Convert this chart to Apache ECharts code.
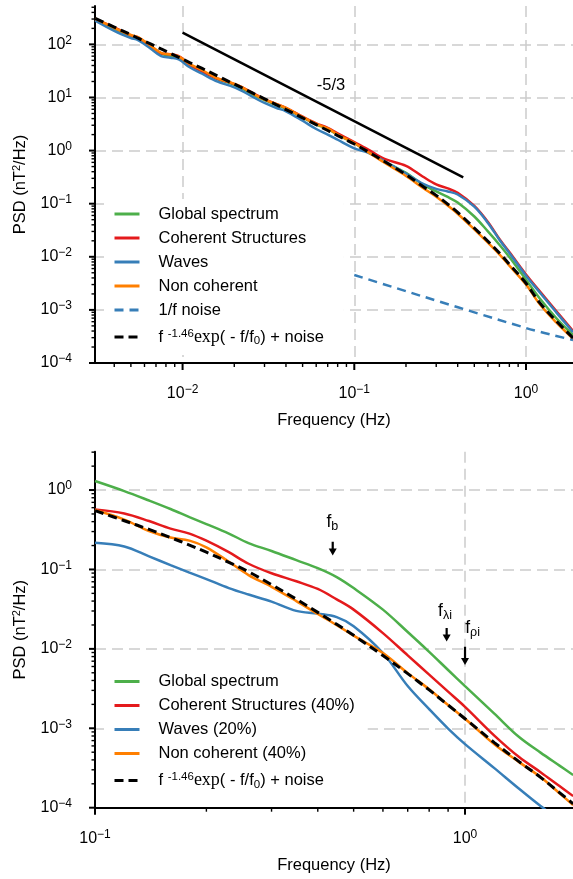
<!DOCTYPE html>
<html><head><meta charset="utf-8">
<script src="https://cdn.jsdelivr.net/npm/echarts@6/dist/echarts.min.js"></script>
<style>html,body{margin:0;padding:0;background:#fff}#c{width:573px;height:879px}</style>
</head><body><div id="c"></div>
<script>
// ================= DATA =================
// Top panel (full range)
const topFreq = [0.0031, 0.004, 0.005, 0.0055, 0.0065, 0.0075, 0.0085, 0.0095, 0.011, 0.013, 0.016, 0.019, 0.022, 0.026, 0.03, 0.035, 0.04, 0.05, 0.06, 0.07, 0.08, 0.1, 0.12, 0.15, 0.2, 0.25, 0.3, 0.35, 0.4, 0.5, 0.6, 0.7, 0.8, 1.0, 1.2, 1.5, 1.88];
const topGlobal = [296, 198, 142, 128, 90, 66, 61, 56, 41, 31.5, 22, 18.5, 15, 11.1, 8.9, 7.3, 6.15, 4.2, 3.1, 2.55, 1.98, 1.38, 0.95, 0.62, 0.38, 0.23, 0.17, 0.134, 0.105, 0.0574, 0.030, 0.0169, 0.0099, 0.0037, 0.00165, 0.0007, 0.000335];
const topCoherent = [300, 210, 148, 136, 93, 68, 65, 60, 41.5, 31, 22.5, 19, 15.9, 11.8, 9.3, 7.6, 6.4, 4.35, 3.25, 2.68, 2.1, 1.44, 1.05, 0.695, 0.515, 0.325, 0.23, 0.194, 0.16, 0.0906, 0.0452, 0.0216, 0.0123, 0.00466, 0.00227, 0.00095, 0.0004];
const topWaves = [280, 180, 132, 120, 84, 60, 56, 52, 37, 28, 19.8, 16.5, 13.5, 10.0, 7.9, 6.4, 5.5, 3.65, 2.55, 2.0, 1.6, 1.1, 0.92, 0.63, 0.37, 0.24, 0.19, 0.17, 0.149, 0.088, 0.0435, 0.021, 0.0118, 0.0044, 0.00215, 0.0009, 0.00038];
const topNonCoherent = [305, 205, 150, 137, 95.3, 69.5, 64.5, 59.2, 42.7, 32.7, 22.8, 19.2, 15.8, 11.6, 9.17, 7.55, 6.34, 4.29, 3.17, 2.61, 2.01, 1.39, 0.94, 0.59, 0.333, 0.2, 0.135, 0.0925, 0.0647, 0.0328, 0.0184, 0.0111, 0.0068, 0.003, 0.00129, 0.00058, 0.000285];
const topFit = [310, 212, 152, 131, 102, 81.9, 67.7, 57.1, 45.4, 35.2, 25.4, 19.3, 15.4, 11.8, 9.41, 7.35, 5.92, 4.13, 3.07, 2.39, 1.92, 1.33, 0.953, 0.623, 0.353, 0.213, 0.1435, 0.0983, 0.0688, 0.0349, 0.0196, 0.0118, 0.00723, 0.00317, 0.00137, 0.000618, 0.000296];
const noiseFreq = [0.1, 1.0, 1.88];
const noiseValues = [0.00454, 0.000456, 0.000271];
const slopeFreq = [0.01, 0.431];
const slopeValues = [166, 0.314];
const slopeLabelPos = [0.0731, 16.5];
const slopeLabelText = '-5/3';

// Bottom panel (zoom)
const botFreq = [0.1, 0.12, 0.14, 0.16, 0.18, 0.2, 0.23, 0.26, 0.3, 0.35, 0.4, 0.45, 0.5, 0.6, 0.7, 0.8, 0.9, 1.0, 1.2, 1.4, 1.6, 1.8, 1.96];
const botGlobal = [1.30, 0.971, 0.738, 0.577, 0.457, 0.373, 0.283, 0.215, 0.171, 0.131, 0.104, 0.0802, 0.0583, 0.0312, 0.0163, 0.00917, 0.00542, 0.0034, 0.00153, 0.000775, 0.000494, 0.000339, 0.000258];
const botCoherent = [0.571, 0.506, 0.407, 0.327, 0.283, 0.23, 0.165, 0.118, 0.0895, 0.071, 0.0568, 0.042, 0.0312, 0.0158, 0.00828, 0.00474, 0.00289, 0.00186, 0.00081, 0.000434, 0.00028, 0.000187, 0.00014];
const botWaves = [0.217, 0.195, 0.146, 0.1136, 0.0914, 0.0757, 0.0583, 0.0483, 0.0394, 0.0301, 0.0278, 0.0251, 0.0193, 0.00887, 0.0034, 0.00174, 0.00099, 0.000632, 0.000315, 0.000173, 0.000105, 0.00007, 0.0000524];
const botNonCoherent = [0.56, 0.425, 0.305, 0.252, 0.231, 0.19, 0.125, 0.085, 0.0605, 0.04, 0.0275, 0.0199, 0.0147, 0.00885, 0.00495, 0.0031, 0.00196, 0.00132, 0.00063, 0.000375, 0.000243, 0.000152, 0.000108];
const botFit = [0.55, 0.411, 0.319, 0.252, 0.203, 0.165, 0.123, 0.0935, 0.0644, 0.0422, 0.0288, 0.0204, 0.0148, 0.00824, 0.00488, 0.00304, 0.00196, 0.00132, 0.000661, 0.00038, 0.000241, 0.000155, 0.000112];

// characteristic frequency markers (bottom panel)
const markerFreq = [0.439, 0.892, 1.0];
const markerTop = [0.223, 0.0183, 0.0106];
const markerHead = [0.166, 0.0137, 0.00692];
const markerLabelFreq = [0.438, 0.883, 1.048];
const markerLabelValue = [0.395, 0.0299, 0.0182];
const markerSubs = ['b', 'λi', 'ρi'];

// axis ranges
const topXRange = [0.00309, 1.878];
const topYRange = [0.0001, 528];
const botXRange = [0.1, 1.958];
const botYRange = [0.0001, 3.04];

// tick values
const topXMajor = [0.01, 0.1, 1];
const topXMinor = [0.004, 0.005, 0.006, 0.007, 0.008, 0.009, 0.02, 0.03, 0.04, 0.05, 0.06, 0.07, 0.08, 0.09, 0.2, 0.3, 0.4, 0.5, 0.6, 0.7, 0.8, 0.9];
const topYMajor = [0.0001, 0.001, 0.01, 0.1, 1, 10, 100];
const topYMinor = [0.0002, 0.0003, 0.0004, 0.0005, 0.0006, 0.0007, 0.0008, 0.0009,
  0.002, 0.003, 0.004, 0.005, 0.006, 0.007, 0.008, 0.009,
  0.02, 0.03, 0.04, 0.05, 0.06, 0.07, 0.08, 0.09,
  0.2, 0.3, 0.4, 0.5, 0.6, 0.7, 0.8, 0.9,
  2, 3, 4, 5, 6, 7, 8, 9,
  20, 30, 40, 50, 60, 70, 80, 90,
  200, 300, 400, 500];
const botXMajor = [0.1, 1];
const botXMinor = [0.2, 0.3, 0.4, 0.5, 0.6, 0.7, 0.8, 0.9];
const botYMajor = [0.0001, 0.001, 0.01, 0.1, 1];
const botYMinor = [0.0002, 0.0003, 0.0004, 0.0005, 0.0006, 0.0007, 0.0008, 0.0009,
  0.002, 0.003, 0.004, 0.005, 0.006, 0.007, 0.008, 0.009,
  0.02, 0.03, 0.04, 0.05, 0.06, 0.07, 0.08, 0.09,
  0.2, 0.3, 0.4, 0.5, 0.6, 0.7, 0.8, 0.9,
  2, 3];

// ================= STYLE =================
const FONT = 'Liberation Sans, Arial, Helvetica, sans-serif';
const SERIF = 'Liberation Serif, DejaVu Serif, serif';
const C = { green: '#4daf4a', red: '#e41a1c', blue: '#377eb8', orange: '#ff7f00', black: '#000000' };

function pairs(xs, ys) { return xs.map((x, i) => [x, ys[i]]); }

function powLabel(v) {
  const e = Math.round(Math.log10(v));
  const s = e < 0 ? '\u2212' + (-e) : '' + e;
  return '{b|10}{s|' + s + '}';
}
const labelRich = {
  b: { fontSize: 16, lineHeight: 20, fontFamily: FONT, color: '#000' },
  s: { fontSize: 12, lineHeight: 12, padding: [0, 0, 8, 0], fontFamily: FONT, color: '#000' }
};
const splitStyle = { color: '#cccccc', width: 1.5, type: [11, 6] };

function xAxisCfg(grid, range, showMin) {
  return {
    type: 'log', logBase: 10, gridIndex: grid, min: range[0], max: range[1], splitNumber: 10,
    axisLine: { show: true, onZero: false, lineStyle: { color: '#000', width: 2 } },
    axisTick: { show: false }, minorTick: { show: false },
    axisLabel: { formatter: powLabel, rich: labelRich, margin: 21, showMinLabel: showMin, showMaxLabel: false, color: '#000' },
    splitLine: { show: true, showMinLine: false, showMaxLine: false, lineStyle: splitStyle },
    name: 'Frequency (Hz)', nameLocation: 'middle', nameGap: 49,
    nameTextStyle: { fontSize: 16.5, fontFamily: FONT, color: '#000' }
  };
}
function yAxisCfg(grid, range) {
  return {
    type: 'log', logBase: 10, gridIndex: grid, min: range[0], max: range[1], splitNumber: 10,
    axisLine: { show: true, onZero: false, lineStyle: { color: '#000', width: 2 } },
    axisTick: { show: false }, minorTick: { show: false },
    axisLabel: { formatter: powLabel, rich: labelRich, margin: 23, showMinLabel: true, showMaxLabel: false, color: '#000' },
    splitLine: { show: true, showMinLine: false, showMaxLine: false, lineStyle: splitStyle },
    name: 'PSD (nT{s|2}/Hz)', nameLocation: 'middle', nameGap: 63,
    nameTextStyle: { fontSize: 16.5, fontFamily: FONT, color: '#000',
      rich: { s: { fontSize: 11, lineHeight: 12, padding: [0, 0, 7, 0], fontFamily: FONT, color: '#000' } } }
  };
}

function tickSeries(grid, dir, values, anchor, len, width) {
  return {
    type: 'custom', xAxisIndex: grid, yAxisIndex: grid, silent: true, clip: false, z: 10,
    data: values.map(v => dir === 'x' ? [v, anchor] : [anchor, v]),
    renderItem: function (params, api) {
      const p = api.coord([api.value(0), api.value(1)]);
      const shape = dir === 'x'
        ? { x1: p[0], y1: p[1], x2: p[0], y2: p[1] + len }
        : { x1: p[0], y1: p[1], x2: p[0] - len, y2: p[1] };
      return { type: 'line', shape: shape, style: { stroke: '#000', lineWidth: width } };
    }
  };
}

function curve(grid, name, xs, ys, color, dash, width) {
  return {
    type: 'line', name: name, xAxisIndex: grid, yAxisIndex: grid,
    data: pairs(xs, ys), showSymbol: false, symbol: 'none', smooth: 0.35,
    lineStyle: { color: color, width: width || 2.5, type: dash || 'solid' },
    itemStyle: { color: color }, emphasis: { disabled: true }
  };
}

const legendRich = {
  n: { fontSize: 16.5, lineHeight: 24, fontFamily: FONT, color: '#000' },
  sp: { fontSize: 11.5, lineHeight: 12, padding: [0, 0, 7, 0], fontFamily: FONT, color: '#000' },
  sr: { fontSize: 18, lineHeight: 24, fontFamily: SERIF, color: '#000' },
  sb: { fontSize: 11.5, lineHeight: 12, padding: [8, 0, 0, 0], fontFamily: FONT, color: '#000' }
};
function legendFormatter(name) {
  if (name === 'fit') return '{n|f }{sp|-1.46}{sr|exp}{n|( - f/f}{sb|0}{n|) + noise}';
  return name;
}
function legendCfg(top, names, padRight) {
  return {
    orient: 'vertical', left: 104, top: top, data: names,
    itemWidth: 25, itemHeight: 14, itemGap: 6, selectedMode: false,
    backgroundColor: '#ffffff', padding: [6, padRight, 6, 9],
    itemStyle: { opacity: 0, borderWidth: 0 },
    lineStyle: { width: 3 },
    textStyle: { fontSize: 16.5, lineHeight: 18, fontFamily: FONT, color: '#000', padding: [0, 0, 0, 14], rich: legendRich },
    formatter: legendFormatter
  };
}

const annotLabelRich = {
  i: { fontSize: 17.5, lineHeight: 20, fontFamily: FONT, color: '#000' },
  u: { fontSize: 12.5, lineHeight: 12, padding: [9, 0, 0, 0], fontFamily: FONT, color: '#000' }
};

const series = [
  // top panel
  curve(0, 'Global spectrum', topFreq, topGlobal, C.green),
  curve(0, 'Coherent Structures', topFreq, topCoherent, C.red),
  curve(0, 'Waves', topFreq, topWaves, C.blue),
  curve(0, 'Non coherent', topFreq, topNonCoherent, C.orange),
  curve(0, '1/f noise', noiseFreq, noiseValues, C.blue, [9, 6], 2.5),
  curve(0, 'fit', topFreq, topFit, C.black, [9, 5], 3),
  { type: 'line', name: 'slope', xAxisIndex: 0, yAxisIndex: 0, data: pairs(slopeFreq, slopeValues),
    showSymbol: false, symbol: 'none', lineStyle: { color: '#000', width: 2.5 }, itemStyle: { color: '#000' } },
  { type: 'scatter', name: 'slopeLabel', xAxisIndex: 0, yAxisIndex: 0, symbolSize: 0, silent: true,
    itemStyle: { opacity: 1 },
    data: [slopeLabelPos],
    label: { show: true, position: 'inside', formatter: slopeLabelText, fontSize: 16.5, fontFamily: FONT,
      color: '#000', opacity: 1, textBorderWidth: 0 } },
  // bottom panel
  curve(1, 'Global spectrum', botFreq, botGlobal, C.green),
  curve(1, 'Coherent Structures (40%)', botFreq, botCoherent, C.red),
  curve(1, 'Waves (20%)', botFreq, botWaves, C.blue),
  curve(1, 'Non coherent (40%)', botFreq, botNonCoherent, C.orange),
  curve(1, 'fit', botFreq, botFit, C.black, [9, 5], 3),
  { type: 'scatter', name: 'markerLabels', xAxisIndex: 1, yAxisIndex: 1, symbolSize: 0, silent: true,
    itemStyle: { opacity: 1 },
    data: pairs(markerLabelFreq, markerLabelValue),
    label: { show: true, position: 'inside', color: '#000', opacity: 1, textBorderWidth: 0,
      formatter: function (p) { return '{i|f}{u|' + markerSubs[p.dataIndex] + '}'; },
      rich: annotLabelRich } }
];
markerFreq.forEach((f, i) => {
  series.push({
    type: 'line', name: 'marker' + i, xAxisIndex: 1, yAxisIndex: 1, silent: true,
    data: [{ value: [f, markerTop[i]], symbol: 'none' },
           { value: [f, markerHead[i]], symbol: 'triangle', symbolSize: [8, 7], symbolRotate: 180 }],
    showSymbol: true, lineStyle: { color: '#000', width: 2.2 }, itemStyle: { color: '#000', opacity: 1 }
  });
});
// axis ticks
series.push(
  tickSeries(0, 'x', topXMajor, topYRange[0], 7, 2),
  tickSeries(0, 'x', topXMinor, topYRange[0], 4, 1.4),
  tickSeries(0, 'y', topYMajor, topXRange[0], 6, 2),
  tickSeries(0, 'y', topYMinor, topXRange[0], 3.5, 1.4),
  tickSeries(1, 'x', botXMajor, botYRange[0], 7, 2),
  tickSeries(1, 'x', botXMinor, botYRange[0], 4, 1.4),
  tickSeries(1, 'y', botYMajor, botXRange[0], 6, 2),
  tickSeries(1, 'y', botYMinor, botXRange[0], 3.5, 1.4)
);

const option = {
  animation: false,
  backgroundColor: '#ffffff',
  textStyle: { fontFamily: FONT },
  grid: [
    { left: 95, right: 0, top: 6, bottom: 516, containLabel: false, outerBoundsMode: 'none' },
    { left: 95, right: 0, top: 451.7, bottom: 71.3, containLabel: false, outerBoundsMode: 'none' }
  ],
  xAxis: [xAxisCfg(0, topXRange, false), xAxisCfg(1, botXRange, true)],
  yAxis: [yAxisCfg(0, topYRange), yAxisCfg(1, botYRange)],
  legend: [
    legendCfg(199, ['Global spectrum', 'Coherent Structures', 'Waves', 'Non coherent', '1/f noise', 'fit'], 20),
    legendCfg(666.5, ['Global spectrum', 'Coherent Structures (40%)', 'Waves (20%)', 'Non coherent (40%)', 'fit'], 13)
  ],
  series: series
};
const chart = echarts.init(document.getElementById('c'), null, { renderer: 'canvas' });
chart.setOption(option);
</script>
</body></html>
